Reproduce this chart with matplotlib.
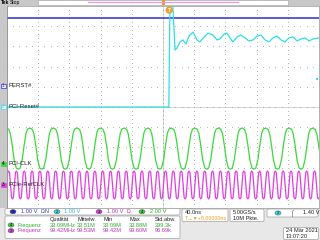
import numpy as np
import matplotlib.pyplot as plt
import matplotlib.transforms as mtransforms
from matplotlib.patches import Rectangle, FancyBboxPatch, Ellipse

plt.rcParams['font.family'] = ['Liberation Sans', 'DejaVu Sans']

# SCOPE SETTINGS
time_per_div = 40.0                      # ns / div
ch_names = ['PERST#', 'PCI-Reset#', 'PCIe-RefCLK', 'PCI-CLK']
ch_numbers = ['1', '2', '3', '4']
ch_colors = ['#2c2cd8', '#2ddfe8', '#e03ee0', '#3cd83c']
volts_per_div = [1.0, 1.0, 1.0, 2.0]
ground_div = [1.04, 0.0, -3.86, -2.82]   # ground marker position, divisions
trigger_time = 8.0                       # ns
trigger_level = 1.40                     # V on channel 2

# CH1 PERST# (flat high level, V)
perst_t = [-200.0, 200.0]
perst_v = [3.37, 3.37]

# CH2 PCI-Reset# edge + ringing (ns, V)
reset_t = [-200, 7.5, 9.0, 12.2, 15.4, 17.9, 21.8, 25.6, 29.5, 33.3, 38.5, 43.6, 47.4,
           52.6, 57.7, 64.1, 69.2, 73.1, 78.2, 82.1, 85.9, 89.7, 94.9, 100.0, 105.1,
           110.3, 115.4, 120.5, 125.6, 130.8, 135.9, 141.0, 146.2, 151.3, 156.4, 161.5,
           166.7, 171.8, 176.9, 182.1, 187.2, 192.3, 200]
reset_v = [0.0, 0.0, 5.4, 5.4, 2.82, 2.92, 3.22, 3.32, 3.12, 3.51, 3.71, 3.32, 3.22,
           3.47, 3.66, 3.56, 3.32, 3.37, 3.61, 3.66, 3.42, 3.22, 3.47, 3.56, 3.42,
           3.27, 3.32, 3.51, 3.56, 3.32, 3.22, 3.42, 3.51, 3.32, 3.22, 3.42,
           3.47, 3.27, 3.37, 3.42, 3.27, 3.37, 3.42]

# CH4 PCI-CLK: one period shape (fraction of period around a peak, V)
pciclk_freq = 33.09e6
pciclk_first_peak = -170.5               # ns
pciclk_phase = [-0.5, -0.42, -0.33, -0.25, -0.17, -0.10, 0.0, 0.10, 0.17, 0.25, 0.33, 0.42]
pciclk_volts = [-0.52, -0.40, 0.45, 1.85, 3.05, 3.46, 3.56, 3.42, 2.95, 1.75, 0.35, -0.42]

# CH3 PCIe-RefCLK: one period shape
refclk_freq = 99.42e6
refclk_first_peak = -198.0
refclk_phase = [-0.5, -0.38, -0.25, -0.12, 0.0, 0.12, 0.25, 0.38]
refclk_volts = [-0.69, -0.62, 0.0, 0.62, 0.69, 0.62, 0.0, -0.62]

# MEASUREMENTS
meas_header = ['Qualität', 'Mittelw.', 'Min', 'Max', 'Std.abw.']
meas_pciclk = ['33.09MHz', '33.51M', '33.09M', '33.88M', '399.3k']
meas_refclk = ['99.42MHz', '99.53M', '99.42M', '99.60M', '96.69k']


def repeat_period(freq, first_peak, phase, volts):
    period = 1e9 / freq
    t, v = [], []
    k = -1
    while first_peak + (k - 0.5) * period < 205:
        for p, val in zip(phase, volts):
            t.append(first_peak + (k + p) * period)
            v.append(val)
        k += 1
    return np.array(t), np.array(v)


def to_div(t, v, ch):
    return np.asarray(t) / time_per_div, np.asarray(v) / volts_per_div[ch] + ground_div[ch]


fig = plt.figure(figsize=(3.2, 2.4), dpi=100, facecolor='#e8e8e8')
ax = fig.add_axes([7 / 320, 32 / 240, 312 / 320, 202 / 240])
ax.set_facecolor('white')
ax.set_xlim(-5, 5)
ax.set_ylim(-5, 5)
ax.set_xticks([])
ax.set_yticks([])
for s in ax.spines.values():
    s.set_color('#a8a8a8')
    s.set_linewidth(0.6)

# GRID (dotted, 5 dots per division)
for i in range(-4, 5):
    col = '#8c8c8c' if i == 0 else '#b4b4b4'
    yy = np.arange(-5, 5.01, 0.2)
    ax.plot(np.full_like(yy, i), yy, ls='none', marker='s', ms=0.7, mec='none', mfc=col, zorder=1)
    xx = np.arange(-5, 5.01, 0.2)
    ax.plot(xx, np.full_like(xx, i), ls='none', marker='s', ms=0.7, mec='none', mfc=col, zorder=1)
ax.plot([0, 0], [-5, 5], color='#b8b8b8', lw=0.4, zorder=1)
ax.plot([-5, 5], [0, 0], color='#b8b8b8', lw=0.4, zorder=1)

# TRACES
x, y = to_div(perst_t, perst_v, 0)
ax.plot(x, y, color=ch_colors[0], lw=1.1, zorder=3)
x, y = to_div(reset_t, reset_v, 1)
ax.plot(x, y, color=ch_colors[1], lw=0.9, zorder=3)
t, v = repeat_period(pciclk_freq, pciclk_first_peak, pciclk_phase, pciclk_volts)
x, y = to_div(t, v, 3)
ax.plot(x, y, color=ch_colors[3], lw=0.9, zorder=3)
t, v = repeat_period(refclk_freq, refclk_first_peak, refclk_phase, refclk_volts)
x, y = to_div(t, v, 2)
ax.plot(x, y, color=ch_colors[2], lw=0.9, zorder=2)

# trigger point marker
ax.text(trigger_time / time_per_div, 4.8, 'T', color='white', fontsize=3.5, fontweight='bold',
        ha='center', va='center', zorder=5,
        bbox=dict(boxstyle='circle,pad=0.25', fc='#f0a030', ec='none'))

# UI OVERLAY IN PIXELS
ui = fig.add_axes([0, 0, 1, 1], zorder=5)
ui.set_xlim(0, 320)
ui.set_ylim(240, 0)
ui.axis('off')
mix = mtransforms.blended_transform_factory(ui.transData, ax.transData)

# top status bar
ui.add_patch(Rectangle((0, 0), 320, 5.5, fc='#c8c8c8', ec='none'))
ui.add_patch(Rectangle((38, 0.3), 250, 5, fc='white', ec='#a0a0a0', lw=0.4))
ui.plot([88, 238], [2.2, 2.2], color='#e596e5', lw=0.9)
ui.add_patch(Rectangle((161.5, 0), 3, 4.5, fc='#f09a20', ec='none'))
ui.text(0.8, 2.8, 'Tek', fontsize=3.6, fontweight='bold', va='center')
ui.text(9.8, 2.8, 'Stop', fontsize=3.6, va='center')

# left strip
ui.add_patch(Rectangle((0, 5.5), 6.5, 202.5, fc='#c8c8c8', ec='none'))
ui.plot([6.5, 6.5], [5.5, 208], color='#909090', lw=0.5)

# channel ground markers + names
for ch in [0, 1, 3, 2]:
    g = ground_div[ch]
    ui.add_patch(Rectangle((0.8, g - 0.12), 4.8, 0.24, transform=mix,
                           fc='#eef0ff' if ch < 2 else ch_colors[ch], ec=ch_colors[ch], lw=0.5))
    ui.text(3.2, g, ch_numbers[ch], transform=mix, fontsize=3.4, ha='center', va='center',
            color=ch_colors[ch] if ch < 2 else 'black')
    ui.text(8.5, g, ch_names[ch], transform=mix, fontsize=4.3, ha='left', va='center', color='#202020')

# trigger level marker on the right
ui.add_patch(Rectangle((315.5, trigger_level - 0.06), 2.5, 0.12, transform=mix,
                       fc=ch_colors[1], ec='none'))

# BOTTOM INFO PANEL
fs = 4.1


def box(x0, y0, w, h):
    ui.add_patch(FancyBboxPatch((x0, y0), w, h, boxstyle='round,pad=0,rounding_size=1.5',
                                fc='white', ec='#a0a0a0', lw=0.5))


def badge(xc, yc, ch):
    ui.add_patch(Ellipse((xc, yc), 6, 4.2, fc=ch_colors[ch], ec='#404040', lw=0.3))
    ui.text(xc, yc + 0.2, ch_numbers[ch], fontsize=3.2, ha='center', va='center', color='#101010')


box(5, 208.5, 175, 6.5)
badge(13, 211.7, 0)
ui.text(21, 211.9, '1.00 V  ΩN', fontsize=fs, color='#3a3ad0', va='center')
badge(57, 211.7, 1)
ui.text(64, 211.9, '1.00 V', fontsize=fs, color='#20c0d0', va='center')
badge(99, 211.7, 2)
ui.text(107, 211.9, '1.00 V  Ω', fontsize=fs, color='#c030c0', va='center')
badge(142, 211.7, 3)
ui.text(150, 211.9, '2.00 V', fontsize=fs, color='#28b028', va='center')

box(182, 209, 46, 12.5)
ui.text(185, 212, '40.0ns', fontsize=fs, va='center', color='#202020')
ui.text(185, 218, 'T→▼+8.00000ns', fontsize=fs - 0.3, va='center', color='#f09a20')

box(230, 209, 34, 12.5)
ui.text(233, 212, '5.00GS/s', fontsize=fs, va='center', color='#202020')
ui.text(233, 218, '10M Pkte.', fontsize=fs, va='center', color='#202020')

box(267, 209, 51, 8)
badge(278, 213, 1)
ui.text(290, 213, '⌠', fontsize=fs, va='center', color='#202020')
ui.text(303, 213, '1.40 V', fontsize=fs, va='center', color='#202020')

box(5, 216, 175, 22.5)
col_x = [50, 77, 103, 129, 155]
for cx, h in zip(col_x, meas_header):
    ui.text(cx, 219.5, h, fontsize=fs, va='center', color='#202020')
badge(11, 225, 3)
ui.text(17.5, 225.2, 'Frequenz', fontsize=fs, va='center', color='#28b028')
for cx, val in zip(col_x, meas_pciclk):
    ui.text(cx, 225.2, val, fontsize=fs, va='center', color='#28b028')
badge(11, 230.7, 2)
ui.text(17.5, 230.9, 'Frequenz', fontsize=fs, va='center', color='#c030c0')
for cx, val in zip(col_x, meas_refclk):
    ui.text(cx, 230.9, val, fontsize=fs, va='center', color='#c030c0')

box(283.5, 227.5, 35, 12)
ui.text(286, 231, '24 Mär 2021', fontsize=fs, va='center', color='#202020')
ui.text(286, 236.5, '13:07:20', fontsize=fs, va='center', color='#202020')

fig.savefig('out.png', dpi=100, facecolor=fig.get_facecolor())
